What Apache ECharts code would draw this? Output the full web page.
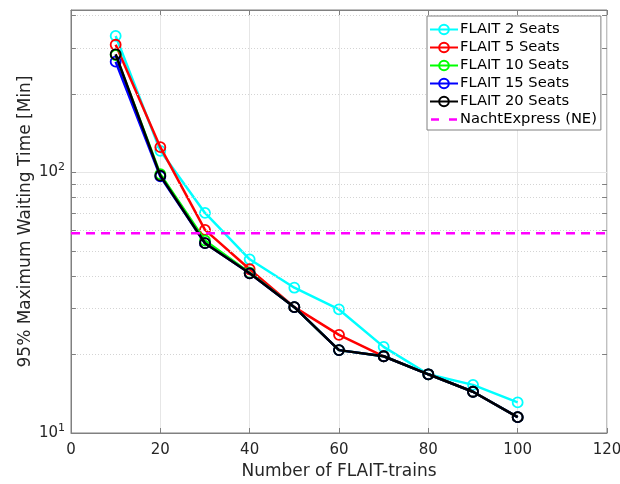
<!DOCTYPE html>
<html>
<head>
<meta charset="utf-8">
<script src="https://cdn.jsdelivr.net/npm/echarts@6/dist/echarts.min.js"></script>
<style>html,body{margin:0;padding:0;background:#fff}#c{width:620px;height:484px}</style>
</head>
<body>
<div id="c"></div>
<script>
const trains = [10, 20, 30, 40, 50, 60, 70, 80, 90, 100];
const seats2  = [334, 121, 69.9, 46.4, 36.1, 29.8, 21.4, 16.8, 15.3, 13.1];
const seats5  = [309, 125, 60.2, 42.5, 30.4, 23.8, 19.7, 16.8, 14.4, 11.5];
const seats10 = [282, 98.5, 54.8, 41.2, 30.4, 20.8, 19.7, 16.8, 14.4, 11.5];
const seats15 = [266, 96.5, 53.5, 41.0, 30.4, 20.8, 19.7, 16.8, 14.4, 11.5];
const seats20 = [284, 97.2, 53.5, 41.0, 30.4, 20.8, 19.7, 16.8, 14.4, 11.5];
const nachtExpress = 58.4;
const xTicks = [0, 20, 40, 60, 80, 100, 120];
const yMinorGrid = [20, 30, 40, 50, 60, 70, 80, 90, 200, 300, 400];
const seriesNames = ['FLAIT 2 Seats', 'FLAIT 5 Seats', 'FLAIT 10 Seats', 'FLAIT 15 Seats', 'FLAIT 20 Seats'];
const neName = 'NachtExpress (NE)';
const seriesColors = ['#00FFFF', '#FF0000', '#00FF00', '#0000FF', '#000000'];
const seriesData = [seats2, seats5, seats10, seats15, seats20];

const txt = '#262626';
const font = 'DejaVu Sans, sans-serif';

const lineSeries = seriesNames.map((n, i) => ({
  name: n, type: 'line',
  data: trains.map((t, k) => [t, seriesData[i][k]]),
  symbol: 'circle', symbolSize: 10,
  lineStyle: { color: seriesColors[i], width: 2.5 },
  itemStyle: { color: 'rgba(255,255,255,0)', borderColor: seriesColors[i], borderWidth: 1.8 },
  z: 3 + i
}));

const minorGridSeries = {
  name: 'minorgrid', type: 'line', data: [], silent: true,
  markLine: {
    silent: true, symbol: 'none', label: { show: false },
    lineStyle: { color: '#d4d4d4', type: [1, 2], width: 1 },
    data: yMinorGrid.map(v => ({ yAxis: v }))
  },
  z: 1
};
const minorTickSeries = {
  name: 'minorticks', type: 'line', data: [], silent: true,
  markLine: {
    silent: true, symbol: 'none', label: { show: false },
    lineStyle: { color: '#808080', type: 'solid', width: 1 },
    data: yMinorGrid.flatMap(v => [
      [{ coord: [0, v] }, { coord: [1.1, v] }],
      [{ coord: [118.9, v] }, { coord: [120, v] }]
    ])
  },
  z: 2
};

const neSeries = {
  name: neName, type: 'line',
  data: [[xTicks[0], nachtExpress], [xTicks[xTicks.length - 1], nachtExpress]],
  symbol: 'none',
  lineStyle: { color: '#FF00FF', width: 2.5, type: [9, 6] },
  itemStyle: { color: '#FF00FF' },
  z: 9
};

function yFmt(v) {
  const e = Math.log10(v);
  if (Math.abs(e - Math.round(e)) < 1e-6) return '{b|10}{s|' + Math.round(e) + '}';
  return '';
}

const chart = echarts.init(document.getElementById('c'));
chart.setOption({
  animation: false,
  textStyle: { fontFamily: font },
  grid: {
    left: 71, right: 13, top: 10, bottom: 51, containLabel: false, outerBoundsMode: 'none',
    show: true, borderColor: '#808080', borderWidth: 1, backgroundColor: 'transparent'
  },
  legend: {
    data: seriesNames.map(n => ({ name: n })).concat([{
      name: neName,
      icon: 'path://M0,0M28,12M1,4.8h8v2.4h-8zM19,4.8h8v2.4h-8z'
    }]),
    orient: 'vertical', left: 427, top: 16,
    padding: [6, 4, 3, 2],
    itemWidth: 28, itemHeight: 12, itemGap: 3,
    backgroundColor: '#fff', borderColor: '#808080', borderWidth: 1,
    textStyle: { fontSize: 14.7, color: '#000', fontFamily: font, lineHeight: 12, padding: [0, 0, 0, -3] },
    z: 20
  },
  xAxis: [{
    type: 'value', min: 0, max: 120, interval: 20,
    name: 'Number of FLAIT-trains', nameLocation: 'middle', nameGap: 26,
    nameTextStyle: { fontSize: 17, color: txt, fontFamily: font },
    axisLine: { show: true, lineStyle: { color: '#808080' } },
    axisTick: { show: true, inside: true, length: 5, lineStyle: { color: '#808080' } },
    axisLabel: { fontSize: 15, color: txt, margin: 10, fontFamily: font },
    splitLine: { show: true, lineStyle: { color: '#e6e6e6', width: 1 } }
  }, {
    type: 'value', min: 0, max: 120, interval: 20, position: 'top',
    axisLine: { show: true, lineStyle: { color: '#808080' } },
    axisTick: { show: true, inside: true, length: 5, lineStyle: { color: '#808080' } },
    axisLabel: { show: false }, splitLine: { show: false }
  }],
  yAxis: [{
    type: 'log', logBase: 10, min: 10, max: 420,
    name: '95% Maximum Waiting Time [Min]', nameLocation: 'middle', nameGap: 37,
    nameMoveOverlap: false,
    nameTextStyle: { fontSize: 17, color: txt, fontFamily: font },
    axisLine: { show: true, lineStyle: { color: '#808080' } },
    axisTick: { show: true, inside: true, length: 5, lineStyle: { color: '#808080' } },
    axisLabel: {
      color: txt, margin: 6, formatter: yFmt,
      rich: {
        b: { fontSize: 15, color: txt, fontFamily: font },
        s: { fontSize: 11, color: txt, fontFamily: font, padding: [0, 0, 10, 0] }
      }
    },
    splitLine: { show: true, lineStyle: { color: '#e6e6e6', width: 1 } },
    minorTick: { show: false }, minorSplitLine: { show: false }
  }],
  series: [minorGridSeries, minorTickSeries].concat(lineSeries, [neSeries])
});
</script>
</body>
</html>
